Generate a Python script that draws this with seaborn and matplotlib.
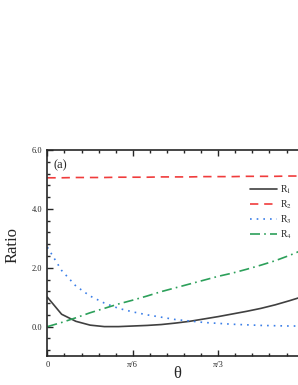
import numpy as np
import pandas as pd
import matplotlib
matplotlib.use("Agg")
import matplotlib.pyplot as plt
import seaborn as sns
from matplotlib.ticker import MultipleLocator, FixedLocator

# theta in degrees, sampled every 5 degrees
theta_deg = [0, 5, 10, 15, 20, 25, 30, 35, 40, 45, 50, 55, 60, 65, 70, 75, 80, 85, 90]
r1 = [1.00, 0.42, 0.18, 0.05, 0.00, 0.00, 0.02, 0.04, 0.07, 0.12, 0.18, 0.26, 0.34, 0.43, 0.52, 0.62, 0.74, 0.88, 1.03]
r2 = [5.06, 5.06, 5.07, 5.07, 5.07, 5.08, 5.08, 5.08, 5.09, 5.09, 5.09, 5.10, 5.10, 5.10, 5.11, 5.11, 5.11, 5.12, 5.12]
r3 = [2.70, 1.91, 1.38, 1.04, 0.80, 0.62, 0.50, 0.40, 0.32, 0.24, 0.19, 0.14, 0.11, 0.08, 0.06, 0.04, 0.03, 0.02, 0.02]
r4 = [0.00, 0.14, 0.30, 0.47, 0.62, 0.77, 0.90, 1.04, 1.19, 1.32, 1.45, 1.58, 1.71, 1.82, 1.95, 2.09, 2.24, 2.42, 2.62]
series_names = ["R$_1$", "R$_2$", "R$_3$", "R$_4$"]
colors = ["#404040", "#f03c3c", "#3a7ee8", "#2ca05a"]
styles = ["-", (0, (5, 3.5)), (0, (1, 3)), (0, (6, 2.5, 1, 2.5))]

theta = np.deg2rad(theta_deg)
df = pd.DataFrame({"theta": theta, "R1": r1, "R2": r2, "R3": r3, "R4": r4})

sns.set_style("ticks")
plt.rcParams["font.family"] = ["Liberation Serif", "DejaVu Serif"]
plt.rcParams["mathtext.fontset"] = "stix"

fig = plt.figure(figsize=(2.98, 3.85), dpi=100)
ax = fig.add_axes([0.159, 0.0753, 0.86, 0.5347])

for col, name, c, ls in zip(["R1", "R2", "R3", "R4"], series_names, colors, styles):
    sns.lineplot(data=df, x="theta", y=col, ax=ax, color=c, linestyle=ls,
                 linewidth=1.2, label=name)

ax.set_xlim(0, np.pi / 2)
ax.set_ylim(-1, 6)
ax.xaxis.set_major_locator(FixedLocator([0, np.pi / 6, np.pi / 3, np.pi / 2]))
ax.set_xticklabels(["0", "π/6", "π/3", "π/2"])
ax.xaxis.set_minor_locator(MultipleLocator(np.pi / 30))
ax.yaxis.set_major_locator(MultipleLocator(2))
ax.yaxis.set_minor_locator(MultipleLocator(0.4))
ax.set_yticks([0, 2, 4, 6])
ax.set_yticklabels(["0.0", "2.0", "4.0", "6.0"])
ax.tick_params(which="both", direction="in", top=True, right=True, labelsize=6, width=1)
ax.tick_params(which="major", length=4)
ax.tick_params(which="minor", length=2)
for s in ax.spines.values():
    s.set_linewidth(1.2)

ax.set_xlabel("θ", fontsize=12, va="center")
ax.xaxis.set_label_coords(0.505, -0.085)
ax.set_ylabel("Ratio", fontsize=12, va="center")
ax.yaxis.set_label_coords(-0.136, 0.54)
ax.text(0.025, 0.955, "(a)", transform=ax.transAxes, fontsize=9, va="top", ha="left")

ax.legend(loc="upper right", bbox_to_anchor=(0.97, 0.855), frameon=False, fontsize=7,
          handlelength=2.8, handletextpad=0.3, labelspacing=0.25, borderaxespad=0)

fig.savefig("out.png", dpi=100)
